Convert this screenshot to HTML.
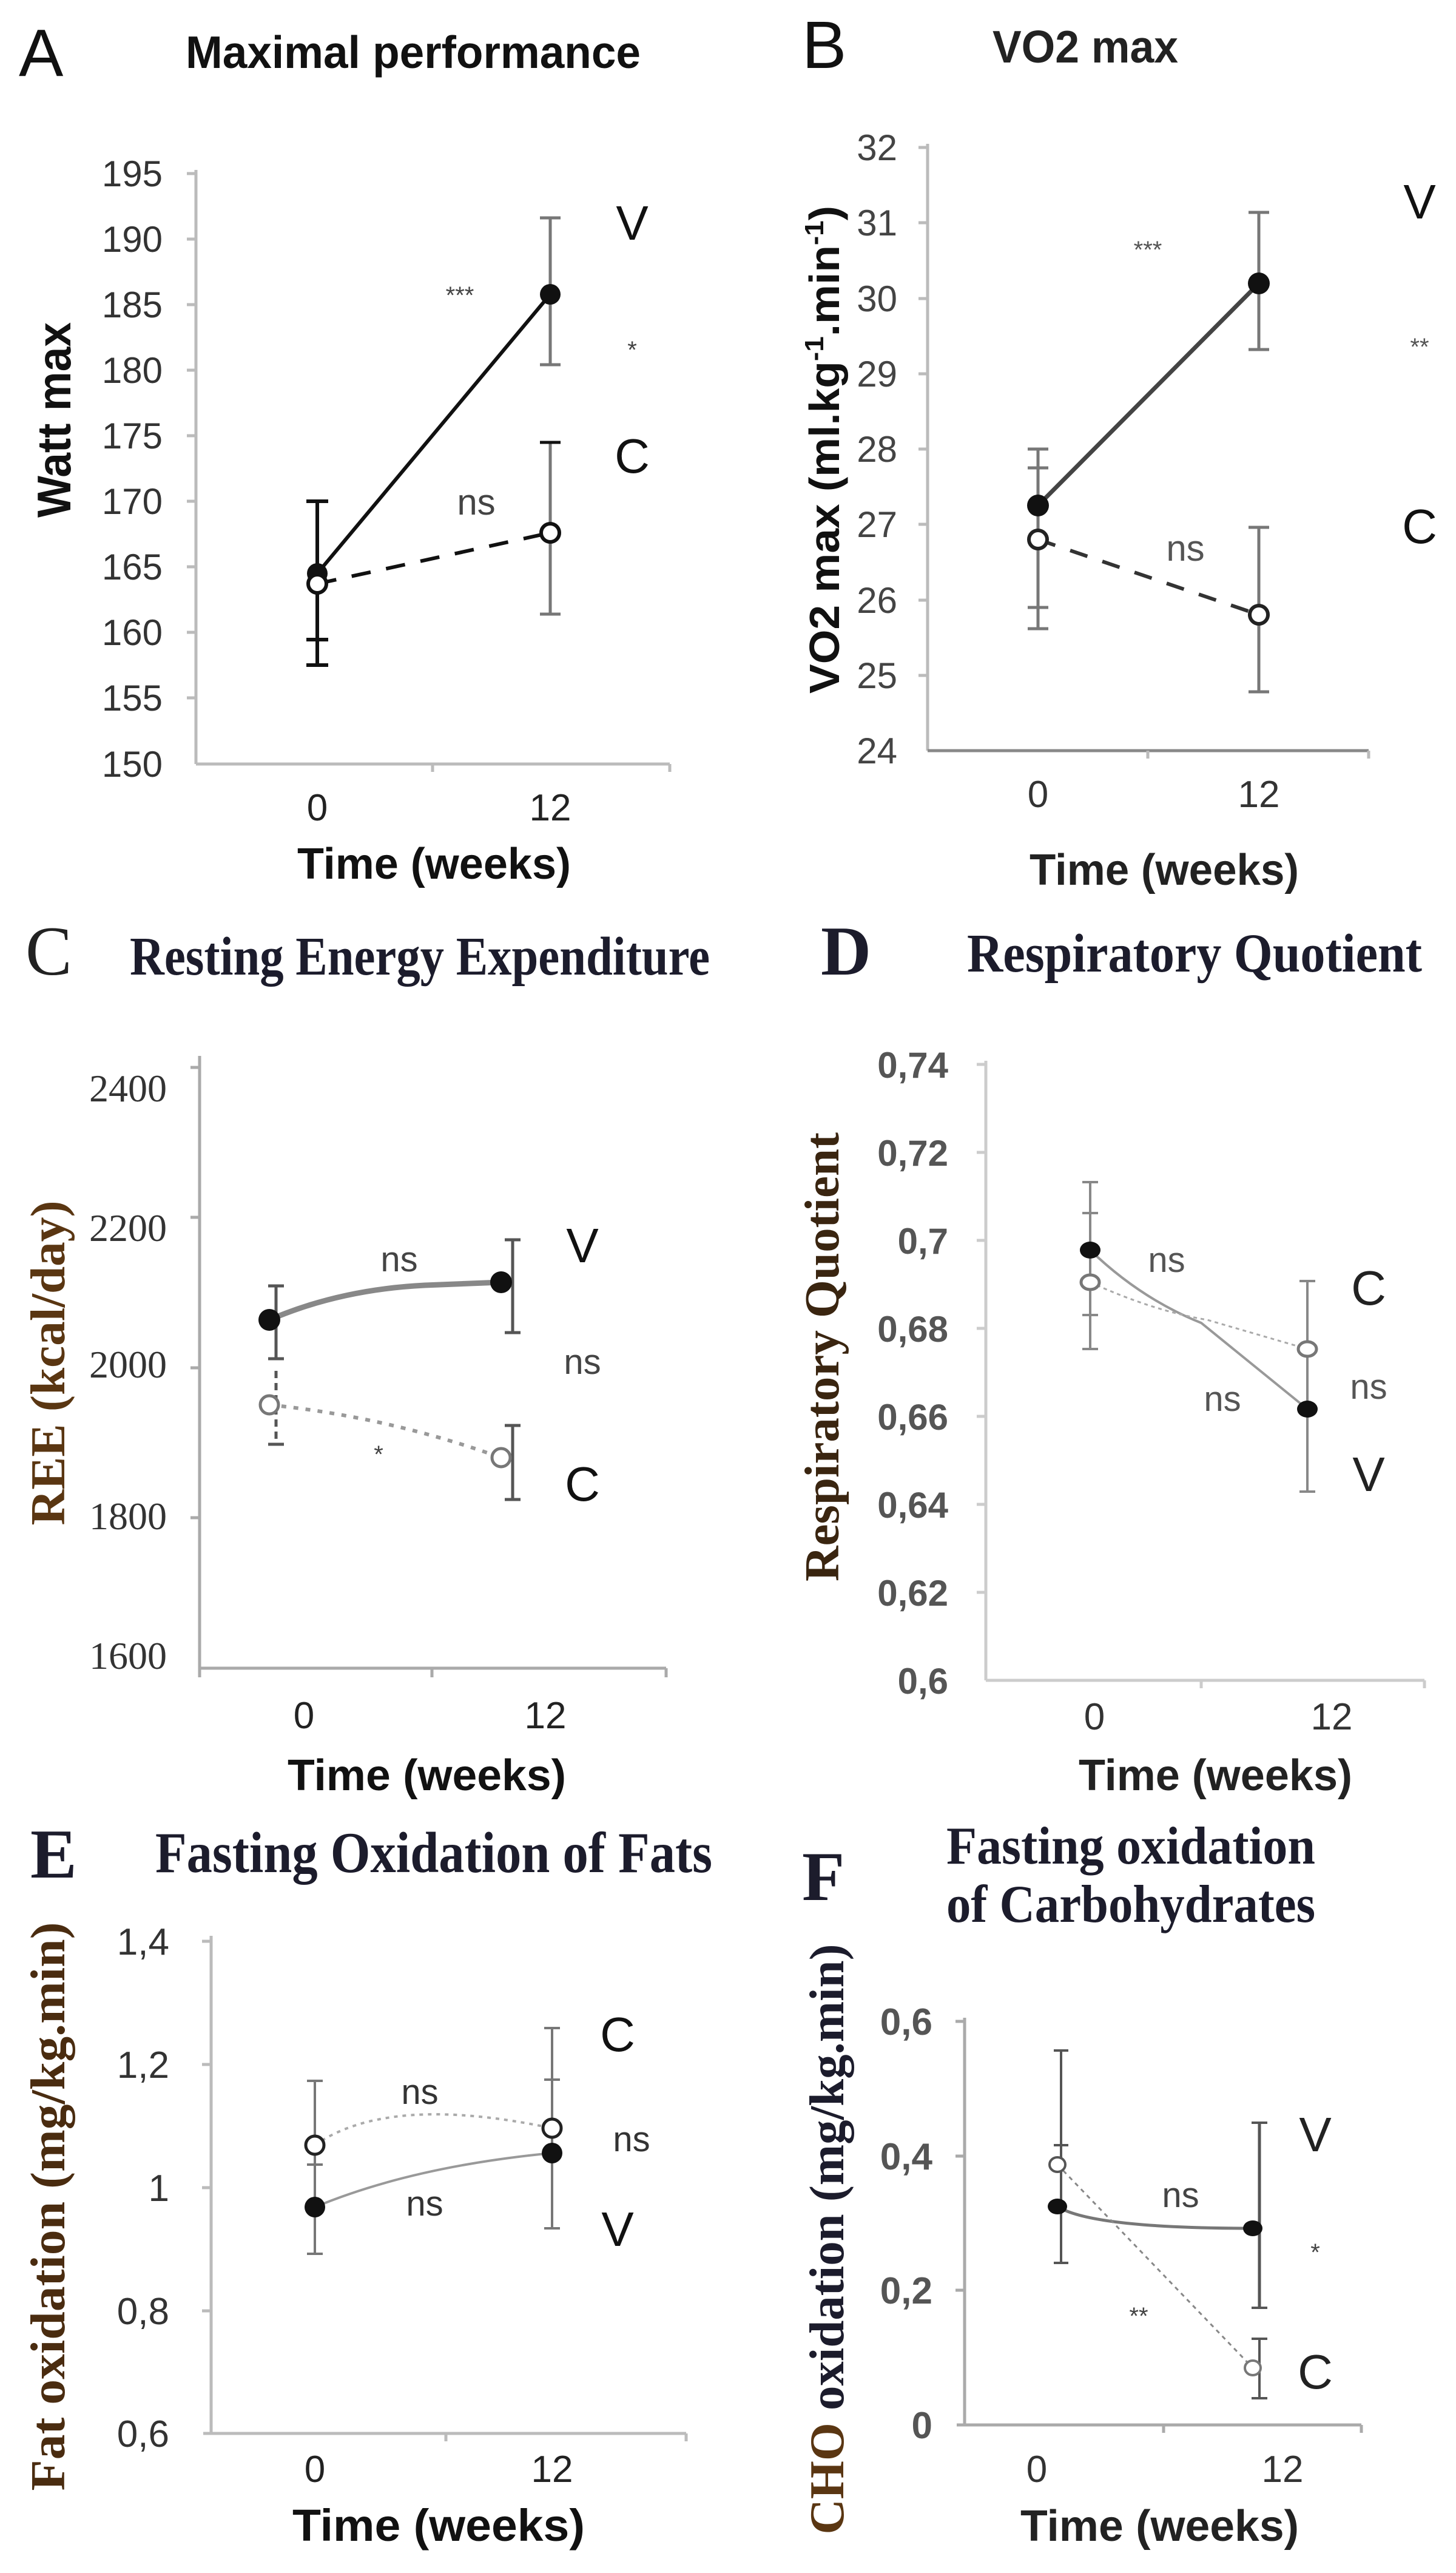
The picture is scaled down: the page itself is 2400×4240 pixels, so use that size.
<!DOCTYPE html>
<html><head><meta charset="utf-8"><style>
html,body{margin:0;padding:0;background:#fff;}
svg{display:block;}
.s{font-family:"Liberation Sans",Arial,sans-serif;}
.r{font-family:"Liberation Serif","Times New Roman",serif;}
</style></head><body>
<svg width="2400" height="4240" viewBox="0 0 2400 4240" xmlns="http://www.w3.org/2000/svg">
<rect width="2400" height="4240" fill="#fff"/>

<!-- ===== Panel A ===== -->
<g class="s">
<text x="31" y="125" font-size="110" fill="#111">A</text>
<text x="306" y="112" font-size="75" font-weight="bold" fill="#111" textLength="750" lengthAdjust="spacingAndGlyphs">Maximal performance</text>
<g stroke="#bbb" stroke-width="5">
<line x1="323" y1="280" x2="323" y2="1259"/><line x1="323" y1="1259" x2="1104" y2="1259"/>
<line x1="308" y1="286" x2="323" y2="286"/><line x1="308" y1="394" x2="323" y2="394"/><line x1="308" y1="502" x2="323" y2="502"/><line x1="308" y1="610" x2="323" y2="610"/><line x1="308" y1="718" x2="323" y2="718"/><line x1="308" y1="826" x2="323" y2="826"/><line x1="308" y1="934" x2="323" y2="934"/><line x1="308" y1="1042" x2="323" y2="1042"/><line x1="308" y1="1150" x2="323" y2="1150"/>
<line x1="713" y1="1259" x2="713" y2="1272"/><line x1="1104" y1="1259" x2="1104" y2="1272"/>
</g>
<g font-size="60" fill="#333" text-anchor="end">
<text x="268" y="307">195</text><text x="268" y="415">190</text><text x="268" y="523">185</text><text x="268" y="631">180</text><text x="268" y="739">175</text><text x="268" y="847">170</text><text x="268" y="955">165</text><text x="268" y="1063">160</text><text x="268" y="1171">155</text><text x="268" y="1280">150</text>
</g>
<g stroke="#777" stroke-width="5">
<line x1="907" y1="359" x2="907" y2="601"/><line x1="890" y1="359" x2="924" y2="359"/><line x1="890" y1="601" x2="924" y2="601"/>
<line x1="907" y1="729" x2="907" y2="1012"/><line x1="890" y1="1012" x2="924" y2="1012"/>
</g>
<line x1="890" y1="729" x2="924" y2="729" stroke="#111" stroke-width="5"/>
<g stroke="#111" stroke-width="6">
<line x1="523" y1="826" x2="523" y2="1096"/><line x1="505" y1="826" x2="541" y2="826"/><line x1="505" y1="1096" x2="541" y2="1096"/><line x1="505" y1="1054" x2="541" y2="1054"/>
<line x1="523" y1="945" x2="907" y2="485"/>
<line x1="523" y1="962" x2="907" y2="878" stroke-dasharray="32,26"/>
</g>
<circle cx="523" cy="945" r="17" fill="#111"/>
<circle cx="523" cy="962" r="15" fill="#fff" stroke="#111" stroke-width="6"/>
<circle cx="907" cy="485" r="17" fill="#111"/>
<circle cx="907" cy="878" r="15" fill="#fff" stroke="#111" stroke-width="6"/>
<text x="758" y="500" font-size="40" fill="#444" text-anchor="middle">***</text>
<text x="785" y="848" font-size="60" fill="#444" text-anchor="middle">ns</text>
<text x="1042" y="395" font-size="80" fill="#111" text-anchor="middle">V</text>
<text x="1042" y="590" font-size="40" fill="#444" text-anchor="middle">*</text>
<text x="1042" y="779" font-size="80" fill="#111" text-anchor="middle">C</text>
<text x="523" y="1352" font-size="62" fill="#222" text-anchor="middle">0</text>
<text x="907" y="1352" font-size="62" fill="#222" text-anchor="middle">12</text>
<text x="490" y="1448" font-size="72" font-weight="bold" fill="#111" textLength="451" lengthAdjust="spacingAndGlyphs">Time (weeks)</text>
<text transform="translate(116,692) rotate(-90)" font-size="78" font-weight="bold" fill="#111" text-anchor="middle" textLength="322" lengthAdjust="spacingAndGlyphs">Watt max</text>
</g>

<!-- ===== Panel B ===== -->
<g class="s">
<text x="1322" y="112" font-size="110" fill="#111">B</text>
<text x="1636" y="103" font-size="75" font-weight="bold" fill="#222" textLength="306" lengthAdjust="spacingAndGlyphs">VO2 max</text>
<g stroke="#bbb" stroke-width="5">
<line x1="1529" y1="237" x2="1529" y2="1237"/><line x1="1529" y1="1237" x2="2256" y2="1237" stroke="#888"/>
<line x1="1514" y1="243" x2="1529" y2="243"/><line x1="1514" y1="367" x2="1529" y2="367"/><line x1="1514" y1="492" x2="1529" y2="492"/><line x1="1514" y1="616" x2="1529" y2="616"/><line x1="1514" y1="740" x2="1529" y2="740"/><line x1="1514" y1="864" x2="1529" y2="864"/><line x1="1514" y1="989" x2="1529" y2="989"/><line x1="1514" y1="1113" x2="1529" y2="1113"/>
<line x1="1892" y1="1237" x2="1892" y2="1250"/><line x1="2256" y1="1237" x2="2256" y2="1250"/>
</g>
<g font-size="60" fill="#444" text-anchor="end">
<text x="1479" y="264">32</text><text x="1479" y="388">31</text><text x="1479" y="513">30</text><text x="1479" y="637">29</text><text x="1479" y="761">28</text><text x="1479" y="885">27</text><text x="1479" y="1010">26</text><text x="1479" y="1134">25</text><text x="1479" y="1258">24</text>
</g>
<g stroke="#777" stroke-width="5">
<line x1="1711" y1="740" x2="1711" y2="1036"/><line x1="1694" y1="740" x2="1728" y2="740"/><line x1="1694" y1="771" x2="1728" y2="771"/><line x1="1694" y1="1001" x2="1728" y2="1001"/><line x1="1694" y1="1036" x2="1728" y2="1036"/>
<line x1="2075" y1="350" x2="2075" y2="576"/><line x1="2058" y1="350" x2="2092" y2="350"/><line x1="2058" y1="576" x2="2092" y2="576"/>
<line x1="2075" y1="869" x2="2075" y2="1140"/><line x1="2058" y1="869" x2="2092" y2="869"/><line x1="2058" y1="1140" x2="2092" y2="1140"/>
</g>
<line x1="1711" y1="833" x2="2075" y2="467" stroke="#444" stroke-width="7"/>
<line x1="1711" y1="889" x2="2075" y2="1013" stroke="#333" stroke-width="6" stroke-dasharray="30,26"/>
<circle cx="1711" cy="833" r="18" fill="#111"/>
<circle cx="1711" cy="889" r="15" fill="#fff" stroke="#222" stroke-width="6"/>
<circle cx="2075" cy="467" r="18" fill="#111"/>
<circle cx="2075" cy="1013" r="15" fill="#fff" stroke="#222" stroke-width="6"/>
<text x="1892" y="425" font-size="40" fill="#555" text-anchor="middle">***</text>
<text x="1954" y="924" font-size="60" fill="#555" text-anchor="middle">ns</text>
<text x="2340" y="360" font-size="80" fill="#111" text-anchor="middle">V</text>
<text x="2340" y="585" font-size="40" fill="#555" text-anchor="middle">**</text>
<text x="2340" y="895" font-size="80" fill="#111" text-anchor="middle">C</text>
<text x="1711" y="1330" font-size="62" fill="#333" text-anchor="middle">0</text>
<text x="2075" y="1330" font-size="62" fill="#333" text-anchor="middle">12</text>
<text x="1697" y="1458" font-size="72" font-weight="bold" fill="#222" textLength="444" lengthAdjust="spacingAndGlyphs">Time (weeks)</text>
<text transform="translate(1383,741) rotate(-90)" font-size="70" font-weight="bold" fill="#111" text-anchor="middle" textLength="804" lengthAdjust="spacingAndGlyphs">VO2 max (ml.kg<tspan font-size="44" dy="-26">-1</tspan><tspan dy="26">.min</tspan><tspan font-size="44" dy="-26">-1</tspan><tspan dy="26">)</tspan></text>
</g>

<!-- ===== Panel C ===== -->
<text class="r" x="42" y="1606" font-size="115" fill="#222">C</text>
<text class="r" x="214" y="1606" font-size="90" font-weight="bold" fill="#1c1c2c" textLength="956" lengthAdjust="spacingAndGlyphs">Resting Energy Expenditure</text>
<g stroke="#aaa" stroke-width="5">
<line x1="329" y1="1740" x2="329" y2="2749"/><line x1="329" y1="2749" x2="1098" y2="2749"/>
<line x1="314" y1="1759" x2="329" y2="1759"/><line x1="314" y1="2006" x2="329" y2="2006"/><line x1="314" y1="2254" x2="329" y2="2254"/><line x1="314" y1="2501" x2="329" y2="2501"/>
<line x1="712" y1="2749" x2="712" y2="2764"/><line x1="1098" y1="2749" x2="1098" y2="2764"/><line x1="329" y1="2749" x2="329" y2="2764"/>
</g>
<g class="r" font-size="64" fill="#333" text-anchor="end">
<text x="275" y="1815">2400</text><text x="275" y="2045">2200</text><text x="275" y="2270">2000</text><text x="275" y="2520">1800</text><text x="275" y="2750">1600</text>
</g>
<g stroke="#555" stroke-width="5">
<line x1="455" y1="2119" x2="455" y2="2239"/><line x1="442" y1="2119" x2="468" y2="2119"/><line x1="442" y1="2239" x2="468" y2="2239"/>
<line x1="845" y1="2043" x2="845" y2="2196"/><line x1="832" y1="2043" x2="858" y2="2043"/><line x1="832" y1="2196" x2="858" y2="2196"/>
<line x1="845" y1="2349" x2="845" y2="2471"/><line x1="832" y1="2349" x2="858" y2="2349"/><line x1="832" y1="2471" x2="858" y2="2471"/>
<line x1="455" y1="2259" x2="455" y2="2380" stroke-dasharray="12,8"/><line x1="442" y1="2380" x2="468" y2="2380"/>
</g>
<path d="M444,2175 Q560,2125 700,2118 L826,2113" fill="none" stroke="#888" stroke-width="9"/>
<path d="M444,2315 Q640,2335 826,2402" fill="none" stroke="#999" stroke-width="6" stroke-dasharray="8,12"/>
<circle cx="444" cy="2175" r="18" fill="#111"/>
<circle cx="826" cy="2113" r="18" fill="#111"/>
<circle cx="444" cy="2315" r="15" fill="#fff" stroke="#777" stroke-width="5"/>
<circle cx="826" cy="2402" r="15" fill="#fff" stroke="#777" stroke-width="5"/>
<g class="s">
<text x="658" y="2095" font-size="58" fill="#444" text-anchor="middle">ns</text>
<text x="960" y="2080" font-size="80" fill="#111" text-anchor="middle">V</text>
<text x="960" y="2264" font-size="58" fill="#444" text-anchor="middle">ns</text>
<text x="960" y="2473" font-size="80" fill="#111" text-anchor="middle">C</text>
<text x="624" y="2410" font-size="40" fill="#444" text-anchor="middle">*</text>
<text x="501" y="2848" font-size="62" fill="#222" text-anchor="middle">0</text>
<text x="899" y="2848" font-size="62" fill="#222" text-anchor="middle">12</text>
<text x="474" y="2950" font-size="72" font-weight="bold" fill="#111" textLength="459" lengthAdjust="spacingAndGlyphs">Time (weeks)</text>
</g>
<text class="r" transform="translate(106,2246) rotate(-90)" font-size="80" font-weight="bold" fill="#5a3612" text-anchor="middle" textLength="535" lengthAdjust="spacingAndGlyphs">REE (kcal/day)</text>

<!-- ===== Panel D ===== -->
<text class="r" x="1353" y="1606" font-size="115" font-weight="bold" fill="#1c1c2c">D</text>
<text class="r" x="1594" y="1601" font-size="90" font-weight="bold" fill="#1c1c2c" textLength="750" lengthAdjust="spacingAndGlyphs">Respiratory Quotient</text>
<g stroke="#ccc" stroke-width="5">
<line x1="1625" y1="1748" x2="1625" y2="2769"/><line x1="1625" y1="2769" x2="2348" y2="2769"/>
<line x1="1610" y1="1754" x2="1625" y2="1754"/><line x1="1610" y1="1899" x2="1625" y2="1899"/><line x1="1610" y1="2044" x2="1625" y2="2044"/><line x1="1610" y1="2189" x2="1625" y2="2189"/><line x1="1610" y1="2334" x2="1625" y2="2334"/><line x1="1610" y1="2479" x2="1625" y2="2479"/><line x1="1610" y1="2624" x2="1625" y2="2624"/>
<line x1="1980" y1="2769" x2="1980" y2="2782"/><line x1="2348" y1="2769" x2="2348" y2="2782"/>
</g>
<g class="s" font-size="60" font-weight="bold" fill="#555" text-anchor="end">
<text x="1563" y="1776">0,74</text><text x="1563" y="1921">0,72</text><text x="1563" y="2066">0,7</text><text x="1563" y="2211">0,68</text><text x="1563" y="2356">0,66</text><text x="1563" y="2501">0,64</text><text x="1563" y="2646">0,62</text><text x="1563" y="2791">0,6</text>
</g>
<g stroke="#888" stroke-width="4">
<line x1="1797" y1="1948" x2="1797" y2="2223"/><line x1="1784" y1="1948" x2="1810" y2="1948"/><line x1="1784" y1="1999" x2="1810" y2="1999"/><line x1="1784" y1="2167" x2="1810" y2="2167"/><line x1="1784" y1="2223" x2="1810" y2="2223"/>
<line x1="2155" y1="2111" x2="2155" y2="2458"/><line x1="2142" y1="2111" x2="2168" y2="2111"/><line x1="2142" y1="2458" x2="2168" y2="2458"/>
</g>
<path d="M1797,2060 Q1880,2140 1980,2180 L2155,2322" fill="none" stroke="#999" stroke-width="4"/>
<path d="M1797,2113 Q1900,2160 1990,2175 L2155,2223" fill="none" stroke="#aaa" stroke-width="3" stroke-dasharray="6,6"/>
<ellipse cx="1797" cy="2060" rx="17" ry="14" fill="#111"/>
<ellipse cx="1797" cy="2113" rx="15" ry="12" fill="#fff" stroke="#777" stroke-width="5"/>
<ellipse cx="2155" cy="2223" rx="15" ry="12" fill="#fff" stroke="#777" stroke-width="5"/>
<ellipse cx="2155" cy="2322" rx="17" ry="14" fill="#111"/>
<g class="s">
<text x="1923" y="2096" font-size="58" fill="#555" text-anchor="middle">ns</text>
<text x="2015" y="2325" font-size="58" fill="#555" text-anchor="middle">ns</text>
<text x="2256" y="2150" font-size="80" fill="#222" text-anchor="middle">C</text>
<text x="2256" y="2305" font-size="58" fill="#555" text-anchor="middle">ns</text>
<text x="2256" y="2457" font-size="80" fill="#222" text-anchor="middle">V</text>
<text x="1804" y="2850" font-size="62" fill="#333" text-anchor="middle">0</text>
<text x="2195" y="2850" font-size="62" fill="#333" text-anchor="middle">12</text>
<text x="1778" y="2950" font-size="72" font-weight="bold" fill="#222" textLength="451" lengthAdjust="spacingAndGlyphs">Time (weeks)</text>
</g>
<text class="r" transform="translate(1382,2236) rotate(-90)" font-size="80" font-weight="bold" fill="#3a2510" text-anchor="middle" textLength="740" lengthAdjust="spacingAndGlyphs">Respiratory Quotient</text>

<!-- ===== Panel E ===== -->
<text class="r" x="50" y="3094" font-size="115" font-weight="bold" fill="#1c1c2c">E</text>
<text class="r" x="256" y="3085" font-size="95" font-weight="bold" fill="#1c1c2c" textLength="918" lengthAdjust="spacingAndGlyphs">Fasting Oxidation of Fats</text>
<g stroke="#bbb" stroke-width="5">
<line x1="348" y1="3190" x2="348" y2="4010"/><line x1="335" y1="4010" x2="1131" y2="4010"/>
<line x1="333" y1="3199" x2="348" y2="3199"/><line x1="333" y1="3402" x2="348" y2="3402"/><line x1="333" y1="3605" x2="348" y2="3605"/><line x1="333" y1="3808" x2="348" y2="3808"/>
<line x1="735" y1="4010" x2="735" y2="4023"/><line x1="1131" y1="4010" x2="1131" y2="4023"/>
</g>
<g class="s" font-size="62" fill="#333" text-anchor="end">
<text x="279" y="3221">1,4</text><text x="279" y="3424">1,2</text><text x="279" y="3627">1</text><text x="279" y="3830">0,8</text><text x="279" y="4032">0,6</text>
</g>
<g stroke="#777" stroke-width="4">
<line x1="519" y1="3429" x2="519" y2="3714"/><line x1="506" y1="3429" x2="532" y2="3429"/><line x1="506" y1="3567" x2="532" y2="3567"/><line x1="506" y1="3714" x2="532" y2="3714"/>
<line x1="910" y1="3342" x2="910" y2="3672"/><line x1="897" y1="3342" x2="923" y2="3342"/><line x1="897" y1="3427" x2="923" y2="3427"/><line x1="897" y1="3672" x2="923" y2="3672"/>
</g>
<path d="M519,3535 Q640,3450 910,3507" fill="none" stroke="#aaa" stroke-width="4" stroke-dasharray="6,8"/>
<path d="M519,3637 Q680,3570 910,3548" fill="none" stroke="#999" stroke-width="4"/>
<circle cx="519" cy="3535" r="15" fill="#fff" stroke="#222" stroke-width="5"/>
<circle cx="910" cy="3507" r="15" fill="#fff" stroke="#222" stroke-width="5"/>
<circle cx="519" cy="3637" r="17" fill="#111"/>
<circle cx="910" cy="3548" r="17" fill="#111"/>
<g class="s">
<text x="1018" y="3380" font-size="80" fill="#111" text-anchor="middle">C</text>
<text x="1041" y="3545" font-size="58" fill="#333" text-anchor="middle">ns</text>
<text x="1018" y="3701" font-size="80" fill="#111" text-anchor="middle">V</text>
<text x="692" y="3467" font-size="58" fill="#333" text-anchor="middle">ns</text>
<text x="700" y="3651" font-size="58" fill="#333" text-anchor="middle">ns</text>
<text x="519" y="4090" font-size="62" fill="#222" text-anchor="middle">0</text>
<text x="910" y="4090" font-size="62" fill="#222" text-anchor="middle">12</text>
<text x="482" y="4187" font-size="74" font-weight="bold" fill="#111" textLength="482" lengthAdjust="spacingAndGlyphs">Time (weeks)</text>
</g>
<text class="r" transform="translate(106,3636) rotate(-90)" font-size="80" font-weight="bold" fill="#4a2c10" text-anchor="middle" textLength="937" lengthAdjust="spacingAndGlyphs">Fat oxidation (mg/kg.min)</text>

<!-- ===== Panel F ===== -->
<text class="r" x="1322" y="3131" font-size="115" font-weight="bold" fill="#1c1c2c">F</text>
<text class="r" x="1560" y="3071" font-size="88" font-weight="bold" fill="#1c1c2c" textLength="608" lengthAdjust="spacingAndGlyphs">Fasting oxidation</text>
<text class="r" x="1560" y="3167" font-size="88" font-weight="bold" fill="#1c1c2c" textLength="608" lengthAdjust="spacingAndGlyphs">of Carbohydrates</text>
<g stroke="#aaa" stroke-width="5">
<line x1="1590" y1="3325" x2="1590" y2="3996"/><line x1="1577" y1="3996" x2="2244" y2="3996"/>
<line x1="1575" y1="3331" x2="1590" y2="3331"/><line x1="1575" y1="3553" x2="1590" y2="3553"/><line x1="1575" y1="3774" x2="1590" y2="3774"/>
<line x1="1918" y1="3996" x2="1918" y2="4009"/><line x1="2244" y1="3996" x2="2244" y2="4009"/>
</g>
<g class="s" font-size="62" font-weight="bold" fill="#555" text-anchor="end">
<text x="1537" y="3353">0,6</text><text x="1537" y="3575">0,4</text><text x="1537" y="3796">0,2</text><text x="1537" y="4018">0</text>
</g>
<g stroke="#555" stroke-width="4">
<line x1="1749" y1="3379" x2="1749" y2="3729"/><line x1="1737" y1="3379" x2="1761" y2="3379"/><line x1="1737" y1="3535" x2="1761" y2="3535"/><line x1="1737" y1="3729" x2="1761" y2="3729"/>
<line x1="2076" y1="3498" x2="2076" y2="3803" stroke-width="5"/><line x1="2063" y1="3498" x2="2089" y2="3498"/><line x1="2063" y1="3803" x2="2089" y2="3803"/>
<line x1="2076" y1="3854" x2="2076" y2="3952"/><line x1="2063" y1="3854" x2="2089" y2="3854"/><line x1="2063" y1="3952" x2="2089" y2="3952"/>
</g>
<path d="M1743,3636 Q1800,3672 2065,3672" fill="none" stroke="#777" stroke-width="5"/>
<line x1="1743" y1="3567" x2="2065" y2="3902" stroke="#888" stroke-width="3" stroke-dasharray="7,7"/>
<ellipse cx="1743" cy="3636" rx="16" ry="13" fill="#111"/>
<ellipse cx="1743" cy="3567" rx="13" ry="12" fill="#fff" stroke="#555" stroke-width="4"/>
<ellipse cx="2065" cy="3672" rx="16" ry="13" fill="#111"/>
<ellipse cx="2065" cy="3902" rx="13" ry="12" fill="#fff" stroke="#777" stroke-width="4"/>
<g class="s">
<text x="2168" y="3545" font-size="80" fill="#222" text-anchor="middle">V</text>
<text x="2168" y="3725" font-size="40" fill="#444" text-anchor="middle">*</text>
<text x="2168" y="3936" font-size="80" fill="#222" text-anchor="middle">C</text>
<text x="1946" y="3637" font-size="58" fill="#444" text-anchor="middle">ns</text>
<text x="1877" y="3830" font-size="40" fill="#444" text-anchor="middle">**</text>
<text x="1709" y="4090" font-size="62" fill="#333" text-anchor="middle">0</text>
<text x="2114" y="4090" font-size="62" fill="#333" text-anchor="middle">12</text>
<text x="1682" y="4187" font-size="72" font-weight="bold" fill="#222" textLength="459" lengthAdjust="spacingAndGlyphs">Time (weeks)</text>
</g>
<text class="r" transform="translate(1390,3690) rotate(-90)" font-size="80" font-weight="bold" fill="#1c1c2c" text-anchor="middle" textLength="973" lengthAdjust="spacingAndGlyphs"><tspan fill="#5a3612">CHO</tspan> oxidation (mg/kg.min)</text>
</svg>
</body></html>
